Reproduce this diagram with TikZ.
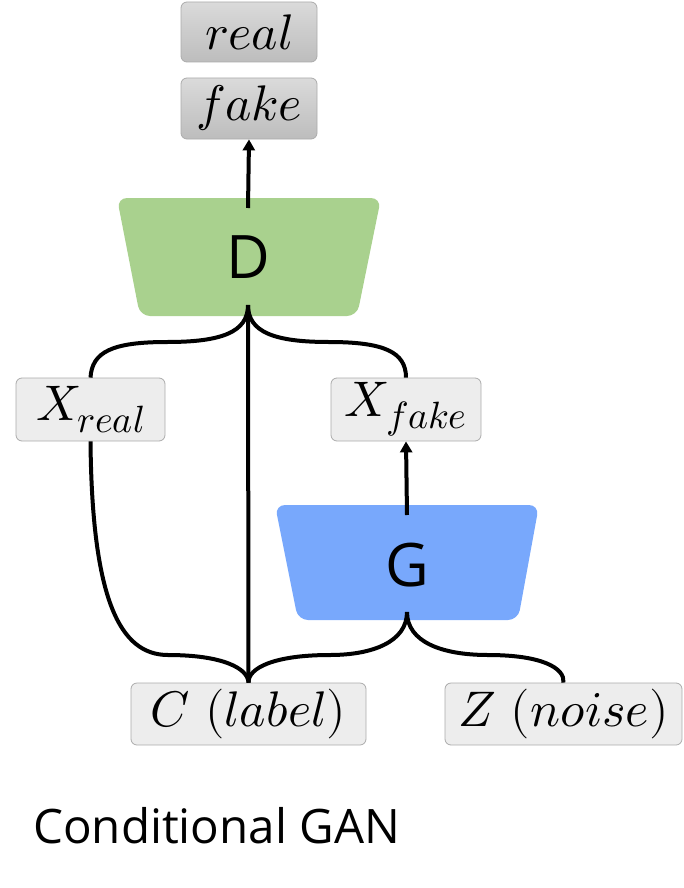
\documentclass[tikz,border=0pt]{standalone}
\usepackage{fontspec}
\usepackage{unicode-math}
\setmathfont{Latin Modern Math}
\setsansfont{Open Sans}
\DeclareMathSizes{50}{50}{38}{30}
\usetikzlibrary{arrows.meta}
\definecolor{dgreen}{HTML}{A9D18E}
\definecolor{gblue}{HTML}{78A8FC}
\definecolor{boxfill}{HTML}{EDEDED}
\definecolor{boxline}{HTML}{ABABAB}
\definecolor{gtop}{HTML}{DADADA}
\definecolor{gbot}{HTML}{BDBDBD}
\tikzset{
  mbox/.style={draw=boxline, line width=0.8pt, fill=boxfill, rounded corners=6pt, inner sep=0pt, font=\fontsize{50}{54}\selectfont},
  gbox/.style={draw=boxline, line width=0.8pt, top color=gtop, bottom color=gbot, rounded corners=6pt, inner sep=0pt, font=\fontsize{50}{54}\selectfont},
  wire/.style={line width=4pt, black},
  arr/.style={line width=4pt, black, -{Triangle[length=11pt,width=12pt]}},
  netlabel/.style={font=\sffamily\fontsize{60}{60}\selectfont, inner sep=0pt},
}
\begin{document}
\begin{tikzpicture}[x=1pt,y=-1pt]
\useasboundingbox (0,0) rectangle (683,888);
% boxes
\node[gbox, minimum width=136pt, minimum height=60pt] (real) at (249,32) {$real$};
\node[gbox, minimum width=136pt, minimum height=61pt] (fake) at (249,108.5) {$fake$};
\node[mbox, minimum width=149pt, minimum height=63pt] (xr) at (90.5,409.5) {$X_{real}$};
\node[mbox, minimum width=150pt, minimum height=63pt] (xf) at (406,409.5) {$X_{fake}$};
\node[mbox, minimum width=235pt, minimum height=62pt] (c) at (248.5,714) {$C\ (label)$};
\node[mbox, minimum width=237pt, minimum height=62pt] (z) at (563.5,714) {$Z\ (noise)$};
% trapezoids
\fill[dgreen, rounded corners=10pt] (117,198) -- (381,198) -- (357,316) -- (140,316) -- cycle;
\fill[gblue, rounded corners=10pt] (275,505) -- (539,505) -- (518,620) -- (298,620) -- cycle;
\node[netlabel] (D) at (248,257) {D};
\node[netlabel] (G) at (407,565) {G};
% connector points
\coordinate (dtop) at (248,208);
\coordinate (dbot) at (248,305);
\coordinate (gtopc) at (407,515);
\coordinate (gbotc) at (407,612);
% arrows
\draw[arr] (dtop) -- (fake.south);
\draw[arr] (gtopc) -- (xf.south);
% braces from D
\draw[wire] (dbot) .. controls (248,332) and (222,342) .. (167,342) .. controls (112,342) and (92,352) .. (xr.north);
\draw[wire] (dbot) .. controls (248,332) and (274,342) .. (329,342) .. controls (384,342) and (406,352) .. (xf.north);
\draw[wire] (dbot) -- (c.north);
% X_real to C
\draw[wire] (xr.south) .. controls (92,600) and (120,655) .. (168,655) .. controls (222,655) and (248,668) .. (c.north);
% G to C and Z
\draw[wire] (gbotc) .. controls (407,642) and (372,655) .. (330,655) .. controls (274,655) and (248,668) .. (c.north);
\draw[wire] (gbotc) .. controls (407,642) and (442,655) .. (488,655) .. controls (542,655) and (565,668) .. (z.north);
% caption
\node[anchor=base west, inner sep=0pt, font=\sffamily\fontsize{47.5}{50}\selectfont] (cap) at (33,843) {Conditional GAN};
\end{tikzpicture}
\end{document}
